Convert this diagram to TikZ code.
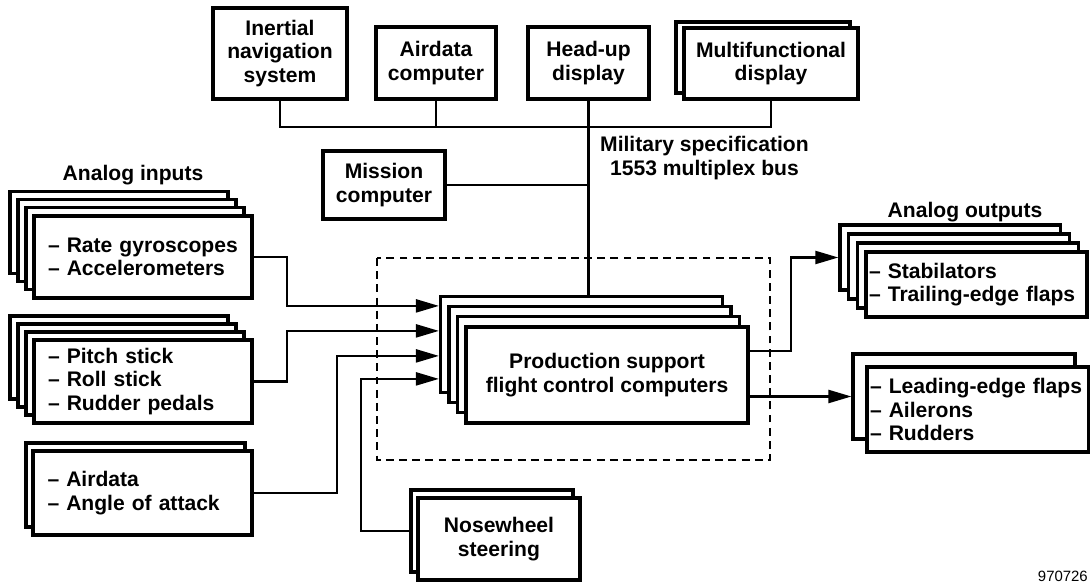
\documentclass[tikz,border=0pt]{standalone}
\usepackage{fontspec}
\setmainfont{Liberation Sans}
\usetikzlibrary{arrows.meta, calc}

\begin{document}
\begin{tikzpicture}[
  x=0.02cm, y=-0.02cm,
  font=\bfseries\fontsize{12}{13.3}\selectfont,
  wire/.style={line width=1.25pt, draw=black},
  feed/.style={
    -{Triangle[length=4.6mm, width=2.6mm]},
    line width=1.25pt, draw=black
  },
  card/.style={draw, line width=1.8pt, fill=white, inner sep=0pt, align=center},
  listcard/.style={card, align=left},
  lab/.style={align=center}
]
\useasboundingbox (0,0) rectangle (1090,584);

% --- 1. Systemes sur le bus ---
\node[card, minimum width=2.68cm, minimum height=1.82cm] (ins) at (280,53.5)
  {Inertial\\navigation\\system};
\node[card, minimum width=2.40cm, minimum height=1.44cm] (adc) at (436,63)
  {Airdata\\computer};
\node[card, minimum width=2.42cm, minimum height=1.44cm] (hud) at (588.5,63)
  {Head-up\\display};
\node[card, minimum width=3.48cm, minimum height=1.42cm] (mfd1) at (763,57.5) {};
\node[card, minimum width=3.48cm, minimum height=1.42cm] (mfd) at (771,63.5)
  {Multifunctional\\display};
\node[card, minimum width=2.44cm, minimum height=1.36cm] (mission) at (384,185)
  {Mission\\computer};
\node[lab, anchor=west] (milbus) at (594,158)
  {Military specification\\1553 multiplex bus};

% --- 2. Calculateurs de vol ---
\draw[line width=1.2pt, dash pattern=on 4.5pt off 3pt] (377,258) rectangle (770,460);
\foreach \k in {3,2,1}
  \node[card, minimum width=5.64cm, minimum height=1.92cm] (fcc\k)
    at (607-8.5*\k, 375-10.2*\k) {};
\node[card, minimum width=5.64cm, minimum height=1.92cm] (fcc) at (607,375)
  {Production support\\flight control computers};

% --- 3. Entrees analogiques ---
\node[lab] (inlab) at (133,175) {Analog inputs};
\foreach \k in {3,2,1}
  \node[card, minimum width=4.36cm, minimum height=1.64cm] (rate\k)
    at (143-8*\k, 257-8.3*\k) {};
\node[listcard, text width=3.8cm, minimum width=4.36cm, minimum height=1.64cm] (rate)
  at (143,257) {-- Rate gyroscopes\\-- Accelerometers};
\foreach \k in {3,2,1}
  \node[card, minimum width=4.36cm, minimum height=1.66cm] (pitch\k)
    at (143-8*\k, 381.5-8*\k) {};
\node[listcard, text width=3.8cm, minimum width=4.36cm, minimum height=1.66cm] (pitch)
  at (143,381.5) {-- Pitch stick\\-- Roll stick\\-- Rudder pedals};
\node[card, minimum width=4.38cm, minimum height=1.68cm] (airdata1) at (135.5,485) {};
\node[listcard, text width=3.8cm, minimum width=4.38cm, minimum height=1.68cm] (airdata)
  at (142.5,493) {-- Airdata\\-- Angle of attack};
\node[card, minimum width=3.24cm, minimum height=1.64cm] (nose1) at (492,531) {};
\node[card, minimum width=3.24cm, minimum height=1.64cm] (nose) at (499,539)
  {Nosewheel\\steering};

% --- 4. Sorties analogiques ---
\node[lab] (outlab) at (965,212) {Analog outputs};
\foreach \k in {3,2,1}
  \node[card, minimum width=4.42cm, minimum height=1.30cm] (outa\k)
    at (976.5-8.7*\k, 284.5-9*\k) {};
\node[listcard, text width=4.30cm, minimum width=4.42cm, minimum height=1.30cm] (outa)
  at (976.5,284.5) {-- Stabilators\\-- Trailing-edge flaps};
\node[card, minimum width=4.44cm, minimum height=1.70cm] (outb1) at (964,396.5) {};
\node[listcard, text width=4.32cm, minimum width=4.44cm, minimum height=1.70cm] (outb)
  at (978,409.5) {-- Leading-edge flaps\\-- Ailerons\\-- Rudders};

\node[font=\mdseries\fontsize{8.5}{9}\selectfont, anchor=east] (fignum) at (1094,576) {970726};

% Bus et liaisons
\coordinate (bus) at (588,127);
\draw[wire] (ins.south) |- (bus) -| (mfd.south);
\draw[wire] (adc.south) -- (adc.south |- bus);
\draw[wire] (hud.south) -- (hud.south |- fcc3.north);
\draw[wire] (mission.east) -- (mission.east -| hud.south);

\draw[feed] (rate.east) -| ($(fcc3.west)+(-152,-38.5)$) -- ($(fcc3.west)+(0,-38.5)$);
\draw[feed] (pitch.east) -| ($(fcc3.west)+(-152,-13.5)$) -- ($(fcc3.west)+(0,-13.5)$);
\draw[feed] (airdata.east) -| ($(fcc3.west)+(-102,11.5)$) -- ($(fcc3.west)+(0,11.5)$);
\draw[feed] (nose1.west) -| ($(fcc3.west)+(-78,34.5)$) -- ($(fcc3.west)+(0,34.5)$);

\draw[feed] ($(fcc.east)+(0,-24)$) -| ($(outa3.west)+(-47,0)$) -- (outa3.west);
\draw[feed] (fcc.east |- outb1.west) -- (outb1.west);

\end{tikzpicture}
\end{document}
